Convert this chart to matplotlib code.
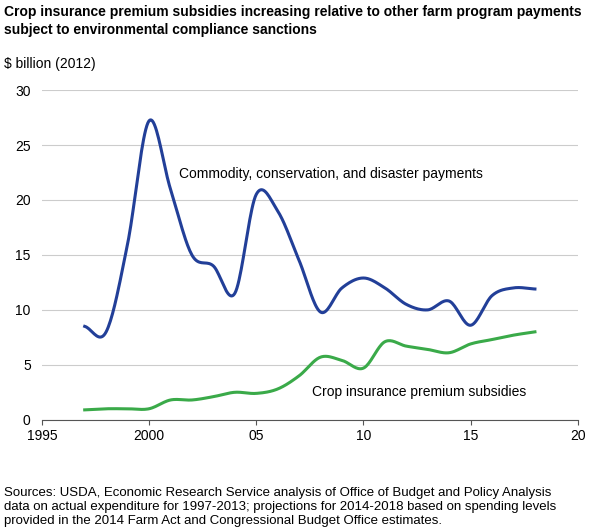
import matplotlib.pyplot as plt
import numpy as np

plt.rcParams['font.family'] = ['Liberation Sans', 'DejaVu Sans']

years = list(range(1997, 2019))
commodity = [8.5, 8.0, 16.0, 27.2, 21.0, 15.0, 14.0, 11.5, 20.5, 19.0, 14.5, 9.8,
             12.0, 12.9, 12.0, 10.5, 10.0, 10.8, 8.6, 11.3, 12.0, 11.9]
insurance = [0.9, 1.0, 1.0, 1.0, 1.8, 1.8, 2.1, 2.5, 2.4, 2.8, 4.0, 5.7,
             5.4, 4.7, 7.1, 6.7, 6.4, 6.1, 6.9, 7.3, 7.7, 8.0]


def smooth(x, y, n=20):
    # catmull-rom through the yearly points
    x = np.asarray(x, float)
    y = np.asarray(y, float)
    px = np.concatenate([[2 * x[0] - x[1]], x, [2 * x[-1] - x[-2]]])
    py = np.concatenate([[2 * y[0] - y[1]], y, [2 * y[-1] - y[-2]]])
    xs, ys = [], []
    t = np.linspace(0, 1, n, endpoint=False)
    for i in range(1, len(px) - 2):
        for p, out in ((px, xs), (py, ys)):
            p0, p1, p2, p3 = p[i - 1], p[i], p[i + 1], p[i + 2]
            out.extend(0.5 * (2 * p1 + (-p0 + p2) * t + (2 * p0 - 5 * p1 + 4 * p2 - p3) * t**2
                              + (-p0 + 3 * p1 - 3 * p2 + p3) * t**3))
    xs.append(x[-1])
    ys.append(y[-1])
    return xs, ys


fig = plt.figure(figsize=(5.89, 5.30), dpi=100)
ax = fig.add_axes([0.071, 0.208, 0.91, 0.622])

ax.plot(*smooth(years, commodity), color='#223f98', lw=2.2)
ax.plot(*smooth(years, insurance), color='#3aaa49', lw=2.2)

ax.set_xlim(1995, 2020)
ax.set_ylim(0, 30)
ax.set_xticks([1995, 2000, 2005, 2010, 2015, 2020])
ax.set_xticklabels(['1995', '2000', '05', '10', '15', '20'])
ax.set_yticks(range(0, 31, 5))
ax.grid(axis='y', color='#cccccc', lw=0.8)
ax.set_axisbelow(True)
for s in ['top', 'right', 'left']:
    ax.spines[s].set_visible(False)
ax.spines['bottom'].set_color('#555555')
ax.tick_params(axis='y', length=0, labelsize=10, pad=8)
ax.tick_params(axis='x', labelsize=10, direction='out', color='#555555')

ax.text(2001.4, 22.4, 'Commodity, conservation, and disaster payments', fontsize=10, va='center')
ax.text(2007.6, 2.5, 'Crop insurance premium subsidies', fontsize=10, va='center')

fig.text(0.007, 0.99, 'Crop insurance premium subsidies increasing relative to other farm program payments\n'
         'subject to environmental compliance sanctions', fontsize=10, fontweight='bold', va='top',
         linespacing=1.3)
fig.text(0.007, 0.872, '$ billion (2012)', fontsize=10)
fig.text(0.007, 0.005, 'Sources: USDA, Economic Research Service analysis of Office of Budget and Policy Analysis\n'
         'data on actual expenditure for 1997-2013; projections for 2014-2018 based on spending levels\n'
         'provided in the 2014 Farm Act and Congressional Budget Office estimates.',
         fontsize=9.5, va='bottom', linespacing=1.25)

fig.savefig('out.png', dpi=100)
